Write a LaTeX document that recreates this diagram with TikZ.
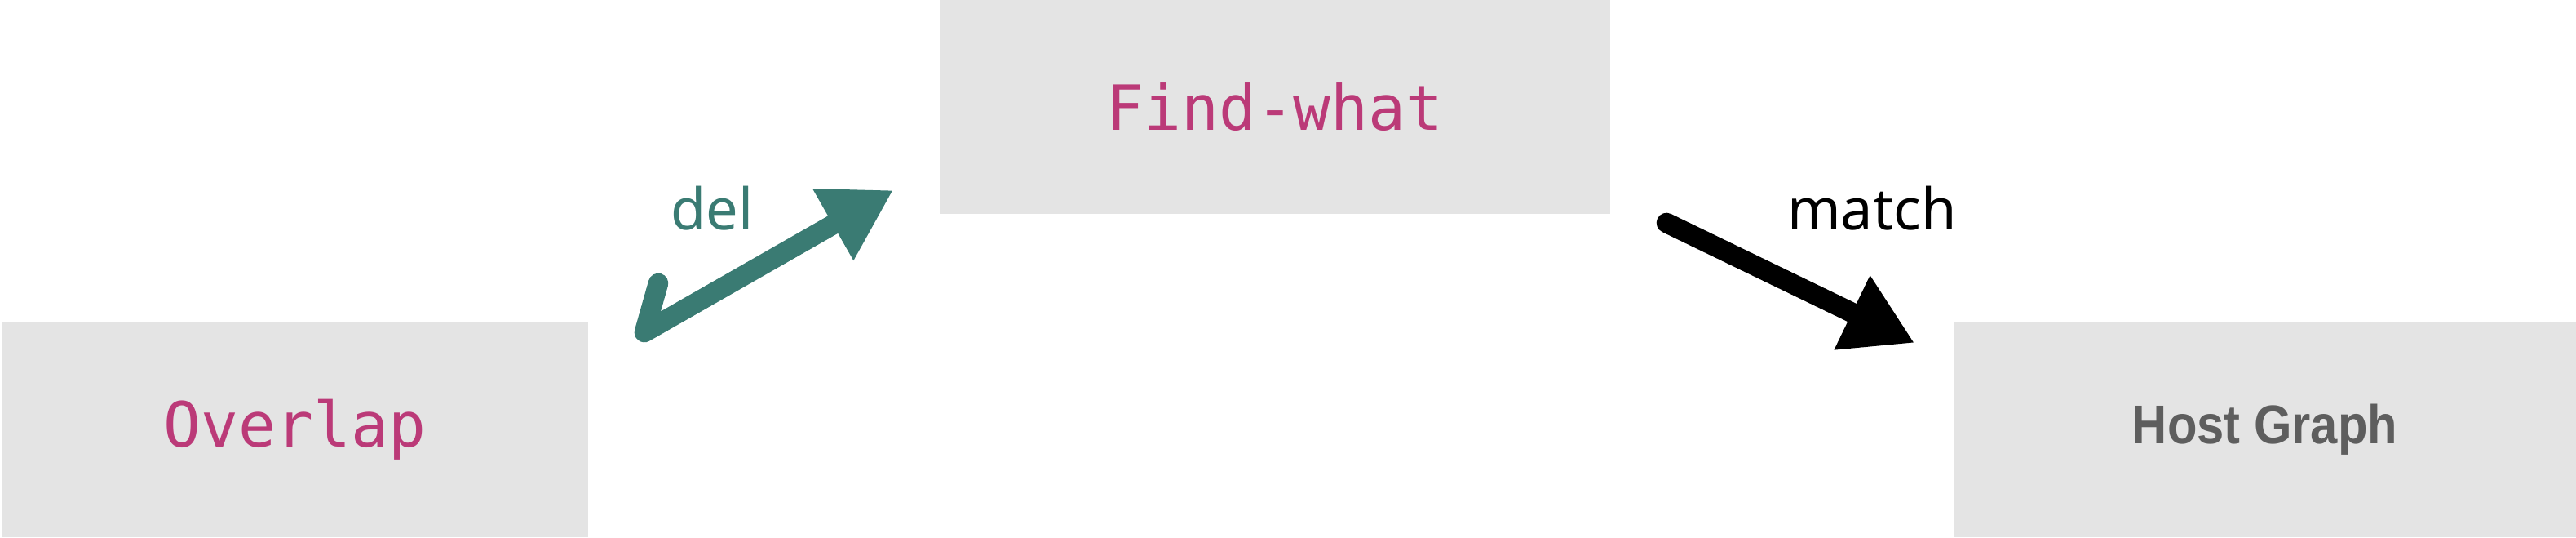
\documentclass[tikz,border=0pt]{standalone}
\usepackage{fontspec}
\usepackage{graphicx}
\setmainfont{Liberation Sans}
\setmonofont{DejaVu Sans Mono}
\newfontfamily\handfont{Noto Sans}
\usetikzlibrary{arrows.meta}
\definecolor{boxgray}{HTML}{E4E4E4}
\definecolor{codepink}{HTML}{BB3A78}
\definecolor{delgreen}{HTML}{3A7B73}
\definecolor{hostgray}{HTML}{5E5E5E}
\tikzset{
  graybox/.style={fill=boxgray, inner sep=0pt},
  codetext/.style={text=codepink, font=\ttfamily\fontsize{21.7}{26}\selectfont},
  sketch/.style={line width=7pt, line cap=round, line join=round,
    -{Triangle[length=8.5mm, width=9.5mm]}},
  scribble/.style={font=\handfont\bfseries\fontsize{20}{24}\selectfont}
}
\begin{document}
\begin{tikzpicture}
  \useasboundingbox (0,0) rectangle (31.58,6.58);
  % Boxes
  \node[graybox, codetext, minimum width=7.19cm, minimum height=2.64cm]
    (overlap) at (3.615,1.32) {Overlap};
  \node[graybox, codetext, minimum width=8.22cm, minimum height=2.62cm]
    (findwhat) at (15.63,5.27) {Find-what};
  \node[graybox, minimum width=7.63cm, minimum height=2.63cm,
    text=hostgray, font=\bfseries\fontsize{17}{20}\selectfont]
    (host) at (27.765,1.315) {\scalebox{1}[1.12]{Host Graph}};

  % del arrow
  \coordinate (delhook) at (8.07,3.11);
  \coordinate (delfrom) at (7.90,2.51);
  \coordinate (delto) at (10.95,4.25);
  \draw[sketch, delgreen] (delhook) -- (delfrom) -- (delto);
  \node[scribble, text=delgreen] (dellab) at (8.73,4.03) {del};

  % match arrow
  \coordinate (matchfrom) at (20.43,3.85);
  \coordinate (matchto) at (23.47,2.38);
  \draw[sketch, black] (matchfrom) -- (matchto);
  \node[scribble, text=black] (matchlab) at (22.95,4.03) {match};
\end{tikzpicture}
\end{document}
